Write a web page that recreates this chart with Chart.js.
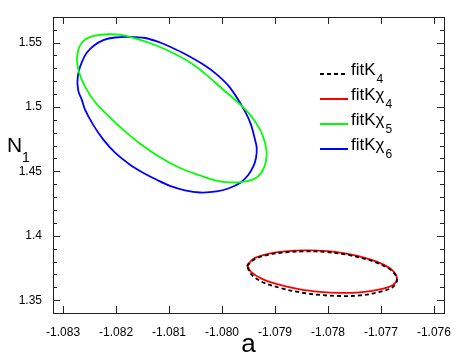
<!DOCTYPE html>
<html>
<head>
<meta charset="utf-8">
<script src="https://cdn.jsdelivr.net/npm/chart.js@4.4.1/dist/chart.umd.min.js"></script>
<style>
  html, body { margin: 0; padding: 0; background: #fff; }
</style>
</head>
<body>
<canvas id="ellipse-chart" width="474" height="356"></canvas>
<script>
// contour points (a, N1)
const fitK4_a = [-1.079528,-1.079377,-1.079132,-1.078811,-1.078434,-1.078057,-1.077679,-1.077302,-1.076981,-1.076774,-1.076698,-1.076774,-1.077019,-1.077396,-1.077774,-1.078151,-1.078528,-1.078906,-1.079245,-1.079453,-1.079528];
const fitK4_n = [1.3766,1.3821,1.3852,1.3872,1.3879,1.3875,1.3856,1.3821,1.3774,1.3720,1.3658,1.3603,1.3565,1.3537,1.3533,1.3541,1.3561,1.3596,1.3642,1.3704,1.3766];

const fitKchi4_a = [-1.079528,-1.079377,-1.079132,-1.078811,-1.078434,-1.078057,-1.077679,-1.077302,-1.076981,-1.076774,-1.076698,-1.076774,-1.077019,-1.077396,-1.077774,-1.078151,-1.078528,-1.078906,-1.079245,-1.079453,-1.079528];
const fitKchi4_n = [1.3774,1.3829,1.3860,1.3879,1.3887,1.3883,1.3864,1.3829,1.3782,1.3728,1.3666,1.3619,1.3584,1.3561,1.3557,1.3565,1.3584,1.3619,1.3666,1.3720,1.3774];

const fitKchi5_a = [-1.082742,-1.082698,-1.082585,-1.082396,-1.082151,-1.081887,-1.081604,-1.081264,-1.080943,-1.080604,-1.080321,-1.079981,-1.079698,-1.079472,-1.079283,-1.079189,-1.079157,-1.079208,-1.079340,-1.079547,-1.079849,-1.080132,-1.080415,-1.080792,-1.081170,-1.081547,-1.081868,-1.082151,-1.082396,-1.082585,-1.082698,-1.082742];
const fitKchi5_n = [1.5368,1.5461,1.5523,1.5554,1.5564,1.5558,1.5529,1.5481,1.5422,1.5345,1.5259,1.5135,1.5034,1.4940,1.4824,1.4723,1.4622,1.4528,1.4455,1.4423,1.4414,1.4431,1.4468,1.4526,1.4610,1.4715,1.4824,1.4933,1.5038,1.5158,1.5267,1.5368];

const fitKchi6_a = [-1.082730,-1.082711,-1.082642,-1.082553,-1.082415,-1.082240,-1.082019,-1.081736,-1.081453,-1.081170,-1.080981,-1.080698,-1.080353,-1.080094,-1.079849,-1.079566,-1.079453,-1.079377,-1.079345,-1.079358,-1.079409,-1.079509,-1.079660,-1.079868,-1.080100,-1.080415,-1.080698,-1.080981,-1.081232,-1.081491,-1.081736,-1.082019,-1.082240,-1.082434,-1.082585,-1.082647,-1.082708,-1.082730];
const fitKchi6_n = [1.5187,1.5264,1.5352,1.5420,1.5477,1.5519,1.5539,1.5544,1.5535,1.5500,1.5467,1.5411,1.5329,1.5251,1.5150,1.4966,1.4863,1.4746,1.4684,1.4606,1.4538,1.4470,1.4409,1.4369,1.4344,1.4336,1.4353,1.4388,1.4435,1.4490,1.4552,1.4645,1.4746,1.4863,1.4979,1.5057,1.5119,1.5187];

const xTickValues = [-1.083,-1.082,-1.081,-1.080,-1.079,-1.078,-1.077,-1.076];
const xTickLabels = ['-1.083','-1.082','-1.081','-1.080','-1.079','-1.078','-1.077','-1.076'];
const yTickValues = [1.35,1.4,1.45,1.5,1.55];
const yTickLabels = ['1.35','1.4','1.45','1.5','1.55'];
const yMinorValues = [1.34,1.36,1.37,1.38,1.39,1.41,1.42,1.43,1.44,1.46,1.47,1.48,1.49,1.51,1.52,1.53,1.54,1.56];

const legendNames = [['fitK','4'], ['fitK\u03c7','4'], ['fitK\u03c7','5'], ['fitK\u03c7','6']];

const FONT = "'Liberation Sans', Arial, sans-serif";

const toPoints = (a, n) => a.map((v, i) => ({ x: v, y: n[i] }));

// frame, inward ticks, axis titles and the legend (grace style)
const gracePlugin = {
  id: 'grace',
  afterDraw(chart) {
    const ctx = chart.ctx;
    const area = chart.chartArea;
    const xs = chart.scales.x, ys = chart.scales.y;
    ctx.save();
    ctx.strokeStyle = '#222';
    ctx.lineWidth = 1;
    ctx.strokeRect(area.left + 0.5, area.top + 0.5, area.right - area.left, area.bottom - area.top);

    ctx.beginPath();
    xTickValues.forEach(v => {
      const px = Math.round(xs.getPixelForValue(v)) + 0.5;
      ctx.moveTo(px, area.bottom); ctx.lineTo(px, area.bottom - 7);
      ctx.moveTo(px, area.top); ctx.lineTo(px, area.top + 7);
    });
    yTickValues.forEach(v => {
      const py = Math.round(ys.getPixelForValue(v)) + 0.5;
      ctx.moveTo(area.left, py); ctx.lineTo(area.left + 7, py);
      ctx.moveTo(area.right, py); ctx.lineTo(area.right - 7, py);
    });
    yMinorValues.forEach(v => {
      const py = Math.round(ys.getPixelForValue(v)) + 0.5;
      ctx.moveTo(area.left, py); ctx.lineTo(area.left + 4, py);
      ctx.moveTo(area.right, py); ctx.lineTo(area.right - 4, py);
    });
    ctx.stroke();

    // axis titles
    ctx.fillStyle = '#000';
    ctx.textAlign = 'center';
    ctx.textBaseline = 'alphabetic';
    ctx.font = '26px ' + FONT;
    ctx.fillText('a', (area.left + area.right) / 2, 352);
    ctx.textAlign = 'left';
    ctx.font = '21px ' + FONT;
    ctx.fillText('N', 7, 152);
    ctx.font = '14px ' + FONT;
    ctx.fillText('1', 22, 162);

    // legend
    chart.data.datasets.forEach((ds, i) => {
      const y = 74 + i * 25;
      ctx.strokeStyle = ds.borderColor;
      ctx.lineWidth = 2;
      ctx.setLineDash(ds.borderDash || []);
      ctx.beginPath();
      ctx.moveTo(320, y); ctx.lineTo(348, y);
      ctx.stroke();
      ctx.setLineDash([]);
      ctx.fillStyle = '#000';
      ctx.font = '17px ' + FONT;
      ctx.fillText(legendNames[i][0], 351, y + 1);
      const w = ctx.measureText(legendNames[i][0]).width;
      ctx.font = '12px ' + FONT;
      ctx.fillText(legendNames[i][1], 351 + w + 1, y + 9);
    });
    ctx.restore();
  }
};

const ellipse_ctx = document.getElementById('ellipse-chart').getContext('2d');
const ellipseChart = new Chart(ellipse_ctx, {
  type: 'scatter',
  plugins: [gracePlugin],
  data: {
    datasets: [
      { label: 'fitK4', data: toPoints(fitK4_a, fitK4_n), borderColor: '#000000', borderDash: [4, 3] },
      { label: 'fitKchi4', data: toPoints(fitKchi4_a, fitKchi4_n), borderColor: '#ff0000' },
      { label: 'fitKchi5', data: toPoints(fitKchi5_a, fitKchi5_n), borderColor: '#00ff00' },
      { label: 'fitKchi6', data: toPoints(fitKchi6_a, fitKchi6_n), borderColor: '#0000ff' }
    ]
  },
  options: {
    responsive: false,
    animation: false,
    layout: { padding: { top: 17, right: 30, left: 0, bottom: 0 } },
    datasets: {
      scatter: { showLine: true, pointRadius: 0, borderWidth: 1.8, tension: 0.35, fill: false }
    },
    scales: {
      x: {
        type: 'linear',
        min: -1.08319,
        max: -1.07581,
        grid: { display: false },
        border: { display: false },
        afterBuildTicks: (scale) => { scale.ticks = xTickValues.map(v => ({ value: v })); },
        afterFit: (scale) => { scale.height = 43; },
        ticks: {
          padding: 4,
          maxRotation: 0,
          autoSkip: false,
          color: '#000',
          font: { family: FONT, size: 12 },
          callback: (v, i) => xTickLabels[i]
        }
      },
      y: {
        type: 'linear',
        min: 1.3401,
        max: 1.5698,
        grid: { display: false },
        border: { display: false },
        afterBuildTicks: (scale) => { scale.ticks = yTickValues.map(v => ({ value: v })); },
        afterFit: (scale) => { scale.width = 53; },
        ticks: {
          padding: 3,
          autoSkip: false,
          color: '#000',
          font: { family: FONT, size: 12 },
          callback: (v, i) => yTickLabels[i]
        }
      }
    },
    plugins: {
      legend: { display: false },
      tooltip: { enabled: false }
    }
  }
});
</script>
</body>
</html>
